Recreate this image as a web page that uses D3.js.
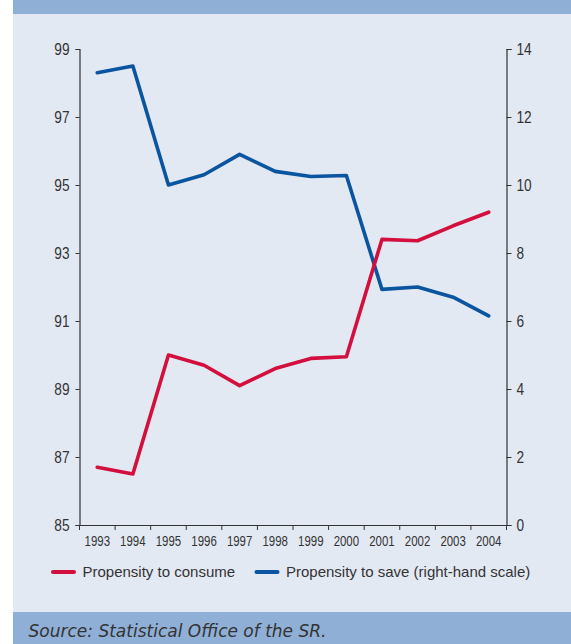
<!DOCTYPE html>
<html>
<head>
<meta charset="utf-8">
<script src="https://cdn.jsdelivr.net/npm/d3@7"></script>
<style>
  html, body { margin: 0; padding: 0; background: #fff; }
  svg { display: block; }
  .tick-label { font-family: "Liberation Sans", Arial, sans-serif; fill: #333; }
</style>
</head>
<body>
<svg id="chart" width="571" height="644"></svg>
<script>
// data
const years = ["1993", "1994", "1995", "1996", "1997", "1998", "1999", "2000", "2001", "2002", "2003", "2004"];
const consume = [86.7, 86.5, 90.0, 89.7, 89.1, 89.6, 89.9, 89.95, 93.4, 93.36, 93.8, 94.2];
const save = [13.3, 13.5, 10.0, 10.3, 10.9, 10.4, 10.25, 10.28, 6.93, 7.0, 6.7, 6.15];
const leftTicks = [85, 87, 89, 91, 93, 95, 97, 99];
const rightTicks = [0, 2, 4, 6, 8, 10, 12, 14];
const seriesNames = ["Propensity to consume", "Propensity to save (right-hand scale)"];
const sourceText = "Source: Statistical Office of the SR.";

const RED = "#d20f3d";
const BLUE = "#0a55a0";
const PANEL = "#e3e9f3";
const BAND = "#8fafd6";
const INK = "#333";

const svg = d3.select("#chart");

// background panel and bands
svg.append("rect").attr("x", 13).attr("y", 0).attr("width", 558).attr("height", 644).attr("fill", PANEL);
svg.append("rect").attr("x", 13).attr("y", 0).attr("width", 558).attr("height", 14).attr("fill", BAND);
svg.append("rect").attr("x", 13).attr("y", 612).attr("width", 558).attr("height", 32).attr("fill", BAND);

const plot = { left: 79.5, right: 506.5, top: 49, bottom: 525 };

const x = d3.scaleBand().domain(years).range([plot.left, plot.right]);
const yLeft = d3.scaleLinear().domain([85, 99]).range([plot.bottom, plot.top]);
const yRight = d3.scaleLinear().domain([0, 14]).range([plot.bottom, plot.top]);

// left axis
const gl = svg.append("g")
  .attr("transform", `translate(${plot.left},0)`)
  .call(d3.axisLeft(yLeft).tickValues(leftTicks).tickSize(4).tickSizeOuter(4).tickPadding(6).tickFormat(d3.format("d")));

// right axis
const gr = svg.append("g")
  .attr("transform", `translate(${plot.right},0)`)
  .call(d3.axisRight(yRight).tickValues(rightTicks).tickSize(5).tickSizeOuter(5).tickPadding(5).tickFormat(d3.format("d")));

// bottom axis: line + ticks at band boundaries, labels at band centres
const gb = svg.append("g")
  .attr("transform", `translate(0,${plot.bottom})`)
  .call(d3.axisBottom(x).tickSize(0).tickSizeOuter(0).tickPadding(11));

const bounds = years.map(d => x(d)).concat([x.range()[1]]);
gb.selectAll("line.bound")
  .data(bounds)
  .enter()
  .append("line")
  .attr("class", "bound")
  .attr("x1", d => d)
  .attr("x2", d => d)
  .attr("y1", 0)
  .attr("y2", 5)
  .attr("stroke", INK);

[gl, gr, gb].forEach(g => {
  g.select(".domain").attr("stroke", INK).attr("stroke-width", 1.2);
  g.selectAll(".tick line").attr("stroke", INK);
  g.selectAll(".tick text").attr("class", "tick-label").attr("fill", INK);
});
// the original uses a condensed face: squeeze labels to its widths
[gl, gr].forEach(g => {
  g.selectAll(".tick text")
    .attr("font-size", 16)
    .attr("textLength", d => String(d).length * 7.6)
    .attr("lengthAdjust", "spacingAndGlyphs");
});
gb.selectAll(".tick text")
  .attr("font-size", 14.5)
  .attr("textLength", 25.5)
  .attr("lengthAdjust", "spacingAndGlyphs");

// lines
const lineLeft = d3.line()
  .x((d, i) => x(years[i]) + x.bandwidth() / 2)
  .y(d => yLeft(d));
const lineRight = d3.line()
  .x((d, i) => x(years[i]) + x.bandwidth() / 2)
  .y(d => yRight(d));

svg.append("path")
  .datum(save)
  .attr("d", lineRight)
  .attr("fill", "none")
  .attr("stroke", BLUE)
  .attr("stroke-width", 3.6)
  .attr("stroke-linejoin", "round")
  .attr("stroke-linecap", "round");

svg.append("path")
  .datum(consume)
  .attr("d", lineLeft)
  .attr("fill", "none")
  .attr("stroke", RED)
  .attr("stroke-width", 3.6)
  .attr("stroke-linejoin", "round")
  .attr("stroke-linecap", "round");

// legend
const legendItems = [
  { name: seriesNames[0], color: RED, x: 53 },
  { name: seriesNames[1], color: BLUE, x: 256.5 },
];
const legend = svg.append("g").attr("transform", "translate(0,572)");
const item = legend.selectAll("g.item")
  .data(legendItems)
  .enter()
  .append("g")
  .attr("class", "item")
  .attr("transform", d => `translate(${d.x},0)`);
item.append("line")
  .attr("x1", 0)
  .attr("x2", 21)
  .attr("stroke", d => d.color)
  .attr("stroke-width", 4)
  .attr("stroke-linecap", "round");
item.append("text")
  .attr("x", 29.5)
  .attr("dy", "0.36em")
  .attr("font-family", "'Liberation Sans', Arial, sans-serif")
  .attr("font-size", 15)
  .attr("fill", INK)
  .text(d => d.name);

// source line
svg.append("text")
  .attr("x", 28.5)
  .attr("y", 637)
  .attr("font-family", "'DejaVu Sans', Verdana, sans-serif")
  .attr("font-style", "italic")
  .attr("font-size", 17)
  .attr("fill", INK)
  .text(sourceText);
</script>
</body>
</html>
